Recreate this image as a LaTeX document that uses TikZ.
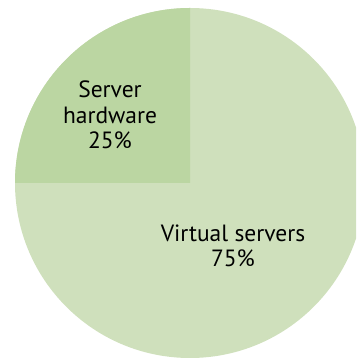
\documentclass[tikz,border=0pt]{standalone}
\usepackage{fontspec}
\setmainfont{PT Sans}
\usetikzlibrary{positioning}
\definecolor{hwgreen}{HTML}{BBD6A2}
\definecolor{vsgreen}{HTML}{CFE0BC}
\tikzset{
  slicelabel/.style={align=center, font=\fontsize{23.5}{25.5}\selectfont, text=black, inner sep=0pt}
}

\begin{document}
\begin{tikzpicture}[x=1pt, y=1pt]
\def\cx{190}
\def\cy{175}
\def\rad{175}

\useasboundingbox (0,0) rectangle (356,358);
\clip (0,0) rectangle (356,358);

\coordinate (c) at (\cx,\cy);

% virtual servers, 75%
\fill[vsgreen] (c) circle (\rad);

% server hardware, 25%
\fill[hwgreen] (c) -- ++(180:\rad) arc (180:90:\rad) -- cycle;

\node[slicelabel] (hw) at (110,243) {Server\\hardware\\25\%};
\node[slicelabel] (vs) at (233,112) {Virtual servers\\75\%};

\end{tikzpicture}
\end{document}
